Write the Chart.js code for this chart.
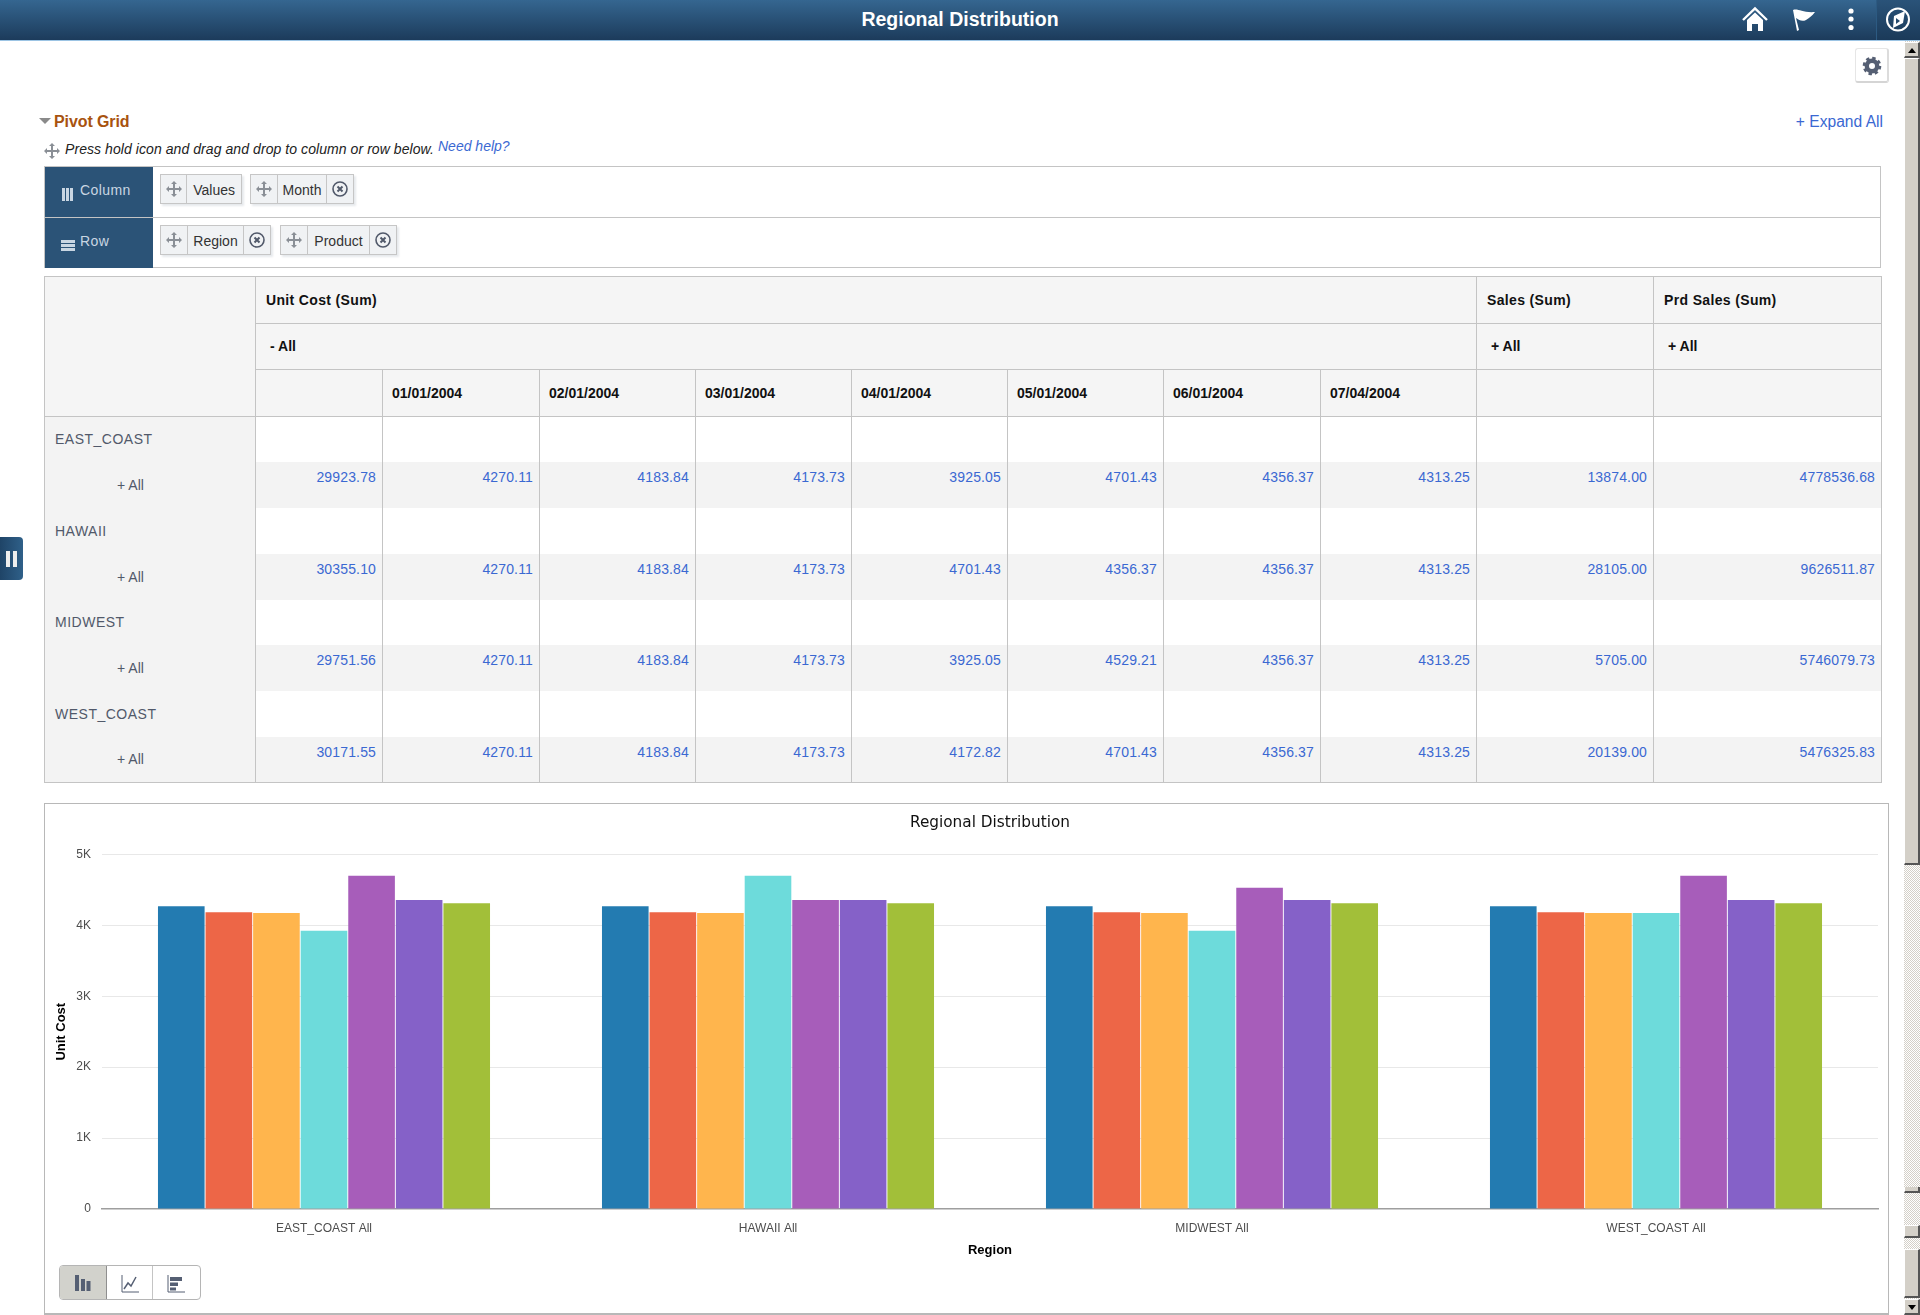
<!DOCTYPE html>
<html>
<head>
<meta charset="utf-8">
<title>Regional Distribution</title>
<script src="https://cdn.jsdelivr.net/npm/chart.js@4"></script>
<style>
html, body { margin: 0; padding: 0; width: 1920px; height: 1315px; overflow: hidden; background: #fff; }
body { font-family: "Liberation Sans", Arial, sans-serif; font-size: 14px; color: #51596a; position: relative; }
.abs { position: absolute; }
#header { left: 0; top: 0; width: 1920px; height: 40px; background: linear-gradient(#356690, #1c3b5b); border-bottom: 1px solid #9cc4e4; }
#header .title { position: absolute; left: 0; width: 1920px; top: 7px; text-align: center; color: #fff; font-weight: bold; font-size: 19.5px; line-height: 24px; }
#navcell { left: 1876px; top: 0; width: 44px; height: 40px; background: linear-gradient(#2a5379, #1b3a59); border-left: 1px solid #2c5a82; box-sizing: border-box; }
#gear { left: 1855px; top: 48px; width: 34px; height: 35px; box-sizing: border-box; border: 1px solid #e6e6e6; border-bottom: 2px solid #d5d5d5; border-right: 2px solid #dcdcdc; border-radius: 3px; background: #fff; }
#scroll { left: 1904px; top: 41px; width: 16px; height: 1274px; background: repeating-conic-gradient(#d4d0c8 0 25%, #fff 0 50%) 0 0 / 2px 2px; }
.sb { position: absolute; left: 0; width: 16px; box-sizing: border-box; background: #d4d0c8; border-top: 1px solid #fff; border-left: 1px solid #fff; border-right: 2px solid #555; border-bottom: 2px solid #555; }
#tab { left: 0; top: 537px; width: 23px; height: 43px; background: linear-gradient(90deg, #1f4467, #2f6089); border-radius: 0 4px 4px 0; }
#tab i { position: absolute; top: 14px; width: 4px; height: 16px; background: #eee; }
.link { color: #3a68d2; }
#filters { left: 44px; top: 166px; width: 1837px; height: 102px; box-sizing: border-box; border: 1px solid #c4c4c4; }
#filters .line { position: absolute; left: 0; right: 0; top: 50px; height: 1px; background: #c4c4c4; }
.flabel { position: absolute; left: 0; width: 108px; height: 50px; background: #2b5377; color: #c9d6e2; line-height: 47px; box-sizing: border-box; padding-left: 35px; letter-spacing: .4px; }
.flabel i { position: absolute; background: #c9d6e2; }
.chip { position: absolute; height: 30px; display: flex; box-sizing: border-box; border: 1px solid #c6c6c6; background: #f0f2f4; box-shadow: 2px 2px 2px #e6e9ec; color: #333; line-height: 30px; }
.chip > div { border-right: 1px solid #c6c6c6; box-sizing: border-box; height: 28px; text-align: center; position: relative; }
.chip > div:last-child { border-right: 0; }
.chip svg { position: absolute; left: 5px; top: 6px; }
#pivot { position: absolute; left: 44px; top: 276px; border-collapse: collapse; table-layout: fixed; width: 1837px; }
#pivot td { border: 1px solid #c4c4c4; box-sizing: border-box; padding: 0; overflow: hidden; white-space: nowrap; }
#pivot td.hd { background: #f5f5f5; color: #111; font-weight: bold; vertical-align: middle; padding-left: 10px; }
#pivot td.hd.date { padding-left: 9px; }
#pivot td.hd.wide { letter-spacing: .35px; }
#pivot td.hd.ind { padding-left: 14px; padding-bottom: 2px; }
#pivot td.rh { background: #f3f3f3; border-top: 0; border-bottom: 0; color: #51596a; padding-left: 10px; letter-spacing: .5px; }
#pivot td.rh.plus { padding-left: 72px; letter-spacing: 0; }
#pivot td.blank { background: #fff; border-top: 0; border-bottom: 0; }
#pivot td.num { background: #f3f3f3; color: #3a68d2; text-align: right; vertical-align: top; padding: 7px 6px 0 0; border-top: 0; border-bottom: 0; line-height: 16px; letter-spacing: .15px; }
#pivot tr:last-child td { border-bottom: 1px solid #c4c4c4; }
#chartbox { left: 44px; top: 803px; width: 1845px; height: 512px; box-sizing: border-box; border: 1px solid #b8b8b8; border-bottom: 2px solid #b8b8b8; background: #fff; }
#chartbox canvas { position: absolute; left: 1px; top: 0; }
#types { left: 59px; top: 1265px; width: 142px; height: 35px; box-sizing: border-box; border: 1px solid #b5b5b5; border-radius: 4px; display: flex; overflow: hidden; background: #fff; }
#types div { width: 47px; height: 33px; border-right: 1px solid #c4c4c4; box-sizing: border-box; position: relative; }
#types div:last-child { border-right: 0; }
#types div.on { background: #d2d2cc; border-right: 1px solid #8f8f8f; }
#types svg { position: absolute; left: 14px; top: 9px; }
</style>
</head>
<body>
<div class="abs" id="header"><div class="title">Regional Distribution</div></div>
<div class="abs" id="navcell"></div>
<svg class="abs" style="left:1740px;top:5px" width="170" height="32" viewBox="0 0 170 32">
  <path d="M3 15 L15 3.5 L27 15" fill="none" stroke="#fff" stroke-width="2.4"/>
  <path d="M7 15 L15 7.5 L23 15 V26 H18 V19 H12 V26 H7 Z" fill="#fff"/>
  <path d="M53 5 C58 3 62 8 75 7 C72 11 69 13 66 15 C62 17 59 15 56 13 L59 25 L57 26 Z" fill="#fff"/>
  <circle cx="111" cy="6" r="2.6" fill="#fff"/><circle cx="111" cy="14" r="2.6" fill="#fff"/><circle cx="111" cy="22.5" r="2.6" fill="#fff"/>
  <circle cx="158" cy="14.5" r="11" fill="none" stroke="#fff" stroke-width="2"/>
  <path d="M165 6 L163 18 L153 23 L154 11 Z" fill="#fff"/><path d="M156 13 V19 L160 16 Z" fill="#25496c"/>
</svg>
<div class="abs" id="gear">
  <svg width="30" height="31" viewBox="0 0 30 31" style="position:absolute;left:0;top:0">
    <circle cx="16" cy="17" r="5.2" fill="none" stroke="#555f73" stroke-width="4.4"/>
    <circle cx="16" cy="17" r="8" fill="none" stroke="#555f73" stroke-width="2.6" stroke-dasharray="3.4 2.88"/>
  </svg>
</div>
<div class="abs" id="scroll">
  <div class="sb" style="top:1px;height:16px;"><svg width="12" height="12" style="position:absolute;left:1px;top:2px"><path d="M2 8 L10 8 L6 3 Z" fill="#000"/></svg></div>
  <div class="sb" style="top:17px;height:807px;"></div>
  <div class="sb" style="top:1146px;height:6px;border-top:0"></div>
  <div class="sb" style="top:1184px;height:13px;"></div>
  <div class="sb" style="top:1208px;height:49px;"></div>
  <div class="sb" style="top:1258px;height:16px;"><svg width="12" height="12" style="position:absolute;left:1px;top:1px"><path d="M2 4 L10 4 L6 9 Z" fill="#000"/></svg></div>
</div>
<div class="abs" id="tab"><i style="left:6px"></i><i style="left:13px"></i></div>

<svg class="abs" style="left:38px;top:117px" width="14" height="8"><path d="M1 1 H13 L7 7 Z" fill="#8a8a8a"/></svg>
<div class="abs" style="left:54px;top:113px;font-size:16px;line-height:18px;font-weight:bold;color:#a8530f;letter-spacing:-.1px">Pivot Grid</div>
<div class="abs link" style="right:37px;top:113px;font-size:15.6px;line-height:18px">+ Expand All</div>
<svg class="abs grip" style="left:44px;top:143px" width="16" height="16"><use href="#gripicon"/></svg>
<div class="abs" style="left:65px;top:141px;line-height:16px;font-style:italic;color:#222;letter-spacing:.07px">Press hold icon and drag and drop to column or row below.</div>
<div class="abs link" style="left:438px;top:138px;line-height:16px;font-style:italic">Need help?</div>

<svg width="0" height="0" style="position:absolute"><defs>
  <g id="gripicon" fill="#8a8f96"><rect x="7" y="2" width="2" height="12"/><rect x="2" y="7" width="12" height="2"/><path d="M8 0 L11 3 H5 Z M8 16 L5 13 H11 Z M0 8 L3 5 V11 Z M16 8 L13 11 V5 Z"/></g>
  <g id="closeicon"><circle cx="8" cy="8" r="7" fill="none" stroke="#51596a" stroke-width="1.6"/><path d="M5.5 5.5 L10.5 10.5 M10.5 5.5 L5.5 10.5" stroke="#51596a" stroke-width="2"/></g>
</defs></svg>

<div class="abs" id="filters">
  <div class="line"></div>
  <div class="flabel" style="top:0">Column<i style="left:17px;top:21px;width:3px;height:13px"></i><i style="left:21px;top:21px;width:3px;height:13px"></i><i style="left:25px;top:21px;width:3px;height:13px"></i></div>
  <div class="flabel" style="top:51px;height:50px">Row<i style="left:16px;top:22px;width:14px;height:3px"></i><i style="left:16px;top:26px;width:14px;height:3px"></i><i style="left:16px;top:30px;width:14px;height:3px"></i></div>
  <div id="chips"></div>
</div>

<div id="tablehost"></div>

<div class="abs" id="chartbox"><canvas id="chart" width="1841" height="509"></canvas></div>
<div class="abs" id="types">
  <div class="on"><svg width="18" height="16" viewBox="0 0 18 16"><path d="M1 0 H5 V16 H1 Z M7 4 H11 V16 H7 Z M12.5 6 H16.5 V16 H12.5 Z" fill="#555f73"/></svg></div>
  <div><svg width="18" height="18" viewBox="0 0 18 18"><path d="M1 0 V17 H18" fill="none" stroke="#555f73"/><path d="M3 14 L7 8 L10 11 L15 2" fill="none" stroke="#555f73" stroke-width="1.5"/></svg></div>
  <div><svg width="18" height="18" viewBox="0 0 18 18"><path d="M1 0 V17 H18" fill="none" stroke="#555f73"/><path d="M3 2 H15 V6 H3 Z M3 7.5 H11 V11 H3 Z M3 12.5 H9 V15.5 H3 Z" fill="#555f73"/></svg></div>
</div>

<script>
// chart + table values
const regions = ['EAST_COAST', 'HAWAII', 'MIDWEST', 'WEST_COAST'];
const dates = ['01/01/2004', '02/01/2004', '03/01/2004', '04/01/2004', '05/01/2004', '06/01/2004', '07/04/2004'];
const jan = [4270.11, 4270.11, 4270.11, 4270.11];
const feb = [4183.84, 4183.84, 4183.84, 4183.84];
const mar = [4173.73, 4173.73, 4173.73, 4173.73];
const apr = [3925.05, 4701.43, 3925.05, 4172.82];
const may = [4701.43, 4356.37, 4529.21, 4701.43];
const jun = [4356.37, 4356.37, 4356.37, 4356.37];
const jul = [4313.25, 4313.25, 4313.25, 4313.25];
const barColors = ['#237bb1', '#ed6647', '#ffb54d', '#6ddbdb', '#a75dba', '#8561c8', '#a2bf39'];
const yTickLabels = ['0', '1K', '2K', '3K', '4K', '5K'];

const unitCostTotals = ['29923.78', '30355.10', '29751.56', '30171.55'];
const salesTotals = ['13874.00', '28105.00', '5705.00', '20139.00'];
const prdSalesTotals = ['4778536.68', '9626511.87', '5746079.73', '5476325.83'];
const monthly = [jan, feb, mar, apr, may, jun, jul];

// chips in the column / row boxes
function chip(left, top, label, w, closable) {
  const total = 27 + w + (closable ? 27 : 0);
  let html = '<div class="chip" style="left:' + left + 'px;top:' + top + 'px;width:' + total + 'px">';
  html += '<div style="width:27px"><svg width="16" height="16"><use href="#gripicon"/></svg></div>';
  html += '<div style="width:' + w + 'px">' + label + '</div>';
  if (closable) html += '<div style="width:26px"><svg width="16" height="16"><use href="#closeicon"/></svg></div>';
  return html + '</div>';
}
document.getElementById('chips').innerHTML =
  chip(115, 7, 'Values', 55, false) + chip(205, 7, 'Month', 50, true) +
  chip(115, 58, 'Region', 57, true) + chip(235, 58, 'Product', 63, true);

// pivot table
const colWidths = [211, 127, 157, 156, 156, 156, 156, 157, 156, 177, 228];
const bodyHeights = [45, 46, 46, 46, 45, 46, 46, 46];
let t = '<table id="pivot"><colgroup>' + colWidths.map(w => '<col style="width:' + w + 'px">').join('') + '</colgroup>';
t += '<tr style="height:47px"><td class="hd" rowspan="3"></td><td class="hd wide" colspan="8">Unit Cost (Sum)</td><td class="hd wide">Sales (Sum)</td><td class="hd wide">Prd Sales (Sum)</td></tr>';
t += '<tr style="height:46px"><td class="hd ind" colspan="8">- All</td><td class="hd ind">+ All</td><td class="hd ind">+ All</td></tr>';
t += '<tr style="height:47px"><td class="hd"></td>' + dates.map(d => '<td class="hd date">' + d + '</td>').join('') + '<td class="hd"></td><td class="hd"></td></tr>';
regions.forEach((r, i) => {
  t += '<tr style="height:' + bodyHeights[i * 2] + 'px"><td class="rh">' + r + '</td>' + '<td class="blank"></td>'.repeat(10) + '</tr>';
  t += '<tr style="height:' + bodyHeights[i * 2 + 1] + 'px"><td class="rh plus">+ All</td><td class="num">' + unitCostTotals[i] + '</td>';
  monthly.forEach(m => { t += '<td class="num">' + m[i].toFixed(2) + '</td>'; });
  t += '<td class="num">' + salesTotals[i] + '</td><td class="num">' + prdSalesTotals[i] + '</td></tr>';
});
document.getElementById('tablehost').innerHTML = t + '</table>';

new Chart(document.getElementById('chart'), {
  type: 'bar',
  data: {
    labels: regions.map(r => r + ' All'),
    datasets: monthly.map((m, i) => ({ label: dates[i], data: m, backgroundColor: barColors[i] }))
  },
  options: {
    responsive: false,
    animation: false,
    devicePixelRatio: 1,
    categoryPercentage: 0.75,
    barPercentage: 0.98,
    layout: { padding: { left: 0, right: 9, top: 0, bottom: 55 } },
    plugins: {
      legend: { display: false },
      tooltip: { enabled: false },
      title: {
        display: true,
        text: 'Regional Distribution',
        fullSize: false,
        color: '#111',
        font: { family: 'DejaVu Sans', size: 15.3, weight: 'normal' },
        padding: { top: 9.5, bottom: 22.6 }
      }
    },
    scales: {
      y: {
        min: 0,
        max: 5000,
        afterFit: s => { s.width = 56; },
        ticks: {
          stepSize: 1000,
          padding: 11,
          color: '#4d4d4d',
          font: { family: 'Liberation Sans', size: 12 },
          callback: (v, i) => yTickLabels[i]
        },
        grid: { color: '#e8e8e8', drawTicks: false, lineWidth: 1 },
        border: { display: false },
        title: {
          display: true,
          text: 'Unit Cost',
          color: '#000',
          font: { family: 'Liberation Sans', size: 13, weight: 'bold' },
          padding: { top: 8, bottom: 0 }
        }
      },
      x: {
        afterFit: s => { s.height = 49; },
        ticks: {
          padding: 12,
          color: '#4d4d4d',
          font: { family: 'Liberation Sans', size: 12 },
          maxRotation: 0
        },
        grid: { display: false, drawTicks: false },
        border: { color: '#9e9e9e', width: 1.5 },
        title: {
          display: true,
          text: 'Region',
          color: '#000',
          font: { family: 'Liberation Sans', size: 13, weight: 'bold' },
          padding: { top: 0, bottom: 0 }
        }
      }
    }
  }
});
</script>
</body>
</html>
